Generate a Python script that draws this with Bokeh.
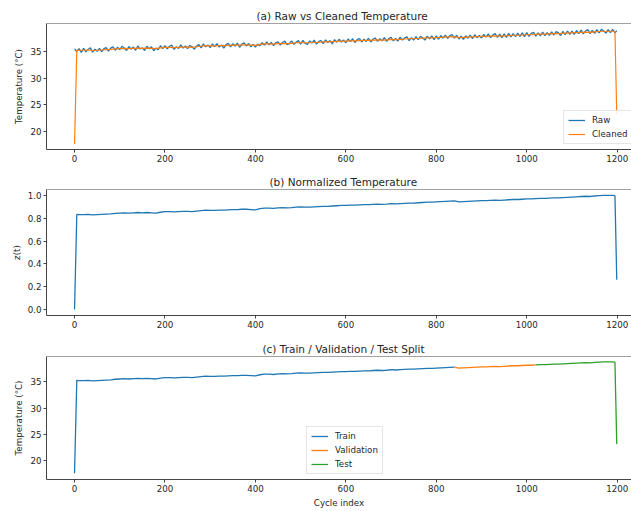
import numpy as np
from bokeh.plotting import figure
from bokeh.layouts import column
from bokeh.models import (Range1d, FixedTicker, PrintfTickFormatter, Span,
                          Legend, LegendItem)
from bokeh.embed import file_html
from bokeh.resources import INLINE

# ---------------- data ----------------
raw_cycles = list(range(0, 1200, 5)) + [1199]
raw_temp = [
    35.45, 34.95, 35.50, 34.80, 35.55, 34.90, 35.35, 35.65, 34.85, 35.40,
    35.00, 35.55, 34.95, 35.50, 35.70, 35.05, 35.60, 35.85, 35.20, 35.75,
    35.30, 35.95, 35.60, 35.15, 35.90, 35.40, 35.80, 35.20, 36.00, 35.45,
    35.65, 35.15, 35.95, 35.45, 35.85, 35.10, 35.60, 35.30, 36.05, 35.50,
    36.05, 35.45, 35.95, 36.15, 35.35, 35.85, 35.55, 36.20, 35.60, 36.00,
    35.50, 36.10, 35.85, 35.40, 36.00, 36.25, 35.65, 36.40, 35.85, 36.20,
    35.70, 36.40, 35.90, 36.45, 35.80, 36.20, 35.60, 36.25, 36.50, 35.85,
    36.45, 35.95, 36.55, 35.75, 36.35, 36.60, 36.00, 36.45, 35.85, 36.30,
    35.80, 36.35, 36.05, 36.60, 36.15, 36.75, 36.20, 36.65, 36.05, 36.60,
    36.75, 36.15, 36.65, 36.90, 36.25, 36.45, 36.95, 36.30, 36.70, 37.00,
    36.35, 37.05, 36.50, 36.30, 36.95, 36.55, 37.10, 36.35, 36.85, 37.00,
    36.45, 37.15, 36.65, 37.00, 36.40, 37.20, 36.70, 37.25, 36.75, 37.10,
    36.60, 37.30, 36.80, 37.35, 36.65, 37.20, 37.40, 36.75, 37.25, 36.85,
    37.45, 36.75, 37.25, 37.50, 36.85, 37.35, 36.95, 37.55, 36.85, 37.40,
    37.60, 36.95, 37.40, 36.90, 37.65, 37.10, 37.50, 37.70, 37.00, 37.55,
    37.10, 37.75, 37.20, 37.80, 37.50, 37.10, 37.85, 37.35, 37.90, 37.20,
    37.90, 37.25, 37.95, 37.45, 38.05, 37.40, 37.95, 38.15, 37.45, 38.00,
    37.30, 37.85, 37.25, 37.90, 37.45, 38.05, 37.35, 38.10, 37.55, 37.95,
    37.50, 38.15, 37.65, 38.25, 37.55, 38.05, 38.30, 37.60, 38.20, 37.55,
    38.25, 37.60, 38.35, 37.70, 38.30, 37.75, 38.40, 37.80, 38.45, 37.75,
    38.50, 37.80, 38.35, 38.55, 37.85, 38.45, 37.90, 38.60, 37.95, 38.50,
    38.00, 38.65, 38.05, 38.70, 38.45, 37.95, 38.75, 38.10, 38.80, 38.15,
    38.80, 38.15, 38.90, 38.30, 38.95, 38.25, 38.80, 39.05, 38.30, 38.90,
    38.35, 39.05, 38.45, 39.10, 38.80, 38.40, 39.05, 38.50, 39.10, 38.45,
    38.85,
]

clean_cycles = [0, 5] + list(range(10, 1200, 10)) + [1195, 1199]
clean_temp = [
    17.70, 35.25,
    35.20, 35.20, 35.25, 35.15, 35.20, 35.25, 35.30, 35.35, 35.45, 35.50,
    35.55, 35.50, 35.55, 35.60, 35.55, 35.60, 35.55, 35.50, 35.65, 35.75,
    35.75, 35.70, 35.75, 35.80, 35.80, 35.75, 35.85, 35.95, 36.05, 36.00,
    36.00, 36.05, 36.05, 36.10, 36.15, 36.15, 36.20, 36.20, 36.15, 36.10,
    36.30, 36.40, 36.40, 36.35, 36.45, 36.50, 36.45, 36.50, 36.60, 36.65,
    36.60, 36.60, 36.65, 36.70, 36.75, 36.75, 36.80, 36.85, 36.90, 36.90,
    36.95, 36.95, 37.00, 37.05, 37.05, 37.10, 37.15, 37.10, 37.15, 37.25,
    37.20, 37.25, 37.30, 37.35, 37.35, 37.40, 37.45, 37.50, 37.50, 37.55,
    37.60, 37.65, 37.70, 37.75, 37.55, 37.60, 37.65, 37.70, 37.75, 37.80,
    37.80, 37.85, 37.90, 37.85, 37.90, 37.95, 38.00, 38.00, 38.05, 38.10,
    38.10, 38.15, 38.20, 38.20, 38.25, 38.30, 38.30, 38.35, 38.40, 38.45,
    38.50, 38.55, 38.60, 38.55, 38.65, 38.70, 38.75, 38.75, 38.75,
    38.70, 23.20,
]

split_val_start = 840
split_test_start = 1020

x_ticks = [0, 200, 400, 600, 800, 1000, 1200]
temp_ticks = [20, 25, 30, 35]
z_ticks = [0.0, 0.2, 0.4, 0.6, 0.8, 1.0]

# ---------------- styling ----------------
FONT = "DejaVu Sans"
TXT = "#262626"
SPINE = "#444444"
BLUE, ORANGE, GREEN = "#1f77b4", "#ff7f0e", "#2ca02c"
W = 631


def make_fig(height, top, bottom, yr, title, title_off, ylabel, yticks,
             xlabel=None, fmt=None):
    p = figure(width=W, height=height, output_backend="svg", toolbar_location=None,
               x_range=Range1d(-62, 1231.6), y_range=Range1d(yr[0], yr[1]),
               min_border_left=46, min_border_right=0,
               min_border_top=top, min_border_bottom=bottom)
    p.outline_line_color = None
    p.background_fill_color = "white"
    p.border_fill_color = "white"
    p.xgrid.visible = False
    p.ygrid.visible = False
    p.title.text = title
    p.title.align = "left"
    p.title.offset = title_off
    p.title.text_font = FONT
    p.title.text_font_size = "10.5px"
    p.title.text_font_style = "normal"
    p.title.text_color = TXT
    p.title.standoff = 4
    for ax in (p.xaxis[0], p.yaxis[0]):
        ax.axis_line_color = SPINE
        ax.axis_line_width = 1
        ax.major_tick_line_color = SPINE
        ax.major_tick_out = 3
        ax.major_tick_in = 0
        ax.minor_tick_line_color = None
        ax.major_label_text_font = FONT
        ax.major_label_text_font_size = "8.7px"
        ax.major_label_text_color = TXT
        ax.major_label_standoff = 2
        ax.axis_label_text_font = FONT
        ax.axis_label_text_font_size = "8.7px"
        ax.axis_label_text_font_style = "normal"
        ax.axis_label_text_color = TXT
        ax.axis_label_standoff = 3
    p.xaxis.ticker = FixedTicker(ticks=x_ticks)
    p.yaxis.ticker = FixedTicker(ticks=yticks)
    if fmt:
        p.yaxis.formatter = PrintfTickFormatter(format=fmt)
    p.yaxis.axis_label = ylabel
    if xlabel:
        p.xaxis.axis_label = xlabel
    p.add_layout(Span(location=yr[1], dimension="width", line_color=SPINE, line_width=1))
    return p


def style_legend(leg):
    leg.label_text_font = FONT
    leg.label_text_font_size = "8.7px"
    leg.label_text_color = TXT
    leg.glyph_width = 17
    leg.glyph_height = 10
    leg.label_height = 10
    leg.label_standoff = 7
    leg.padding = 4
    leg.spacing = 4
    leg.margin = 0
    leg.border_line_color = "#cccccc"
    leg.border_line_width = 1
    leg.background_fill_alpha = 0.85


raw_x = np.array(raw_cycles)
raw_y = np.array(raw_temp)
cx = np.array(clean_cycles)
cy = np.array(clean_temp)

# (a) raw vs cleaned
p1 = make_fig(166, 23, 17, (16.65, 40.2), "(a) Raw vs Cleaned Temperature", 210,
              "Temperature (°C)", temp_ticks)
r_raw = p1.line(raw_x, raw_y, line_color=BLUE, line_width=1.3)
r_cln = p1.line(cx, cy, line_color=ORANGE, line_width=1.2)
leg1 = Legend(items=[LegendItem(label="Raw", renderers=[r_raw]),
                     LegendItem(label="Cleaned", renderers=[r_cln])],
              location=(517, 5))
style_legend(leg1)
p1.add_layout(leg1)

# (b) normalized
z = (cy - cy.min()) / (cy.max() - cy.min())
p2 = make_fig(166, 23, 17, (-0.052, 1.052), "(b) Normalized Temperature", 223,
              "z(t)", z_ticks, fmt="%.1f")
p2.line(cx, z, line_color=BLUE, line_width=1.3)

# (c) split
p3 = make_fig(178, 24, 28, (16.5, 39.75), "(c) Train / Validation / Test Split", 216,
              "Temperature (°C)", temp_ticks, xlabel="Cycle index")
m_tr = cx <= split_val_start
m_va = (cx >= split_val_start) & (cx <= split_test_start)
m_te = cx >= split_test_start
r_tr = p3.line(cx[m_tr], cy[m_tr], line_color=BLUE, line_width=1.3)
r_va = p3.line(cx[m_va], cy[m_va], line_color=ORANGE, line_width=1.3)
r_te = p3.line(cx[m_te], cy[m_te], line_color=GREEN, line_width=1.3)
leg3 = Legend(items=[LegendItem(label="Train", renderers=[r_tr]),
                     LegendItem(label="Validation", renderers=[r_va]),
                     LegendItem(label="Test", renderers=[r_te])],
              location=(260, 5))
style_legend(leg3)
p3.add_layout(leg3)

layout = column(p1, p2, p3)
open("out.html", "w").write(file_html(layout, INLINE))
